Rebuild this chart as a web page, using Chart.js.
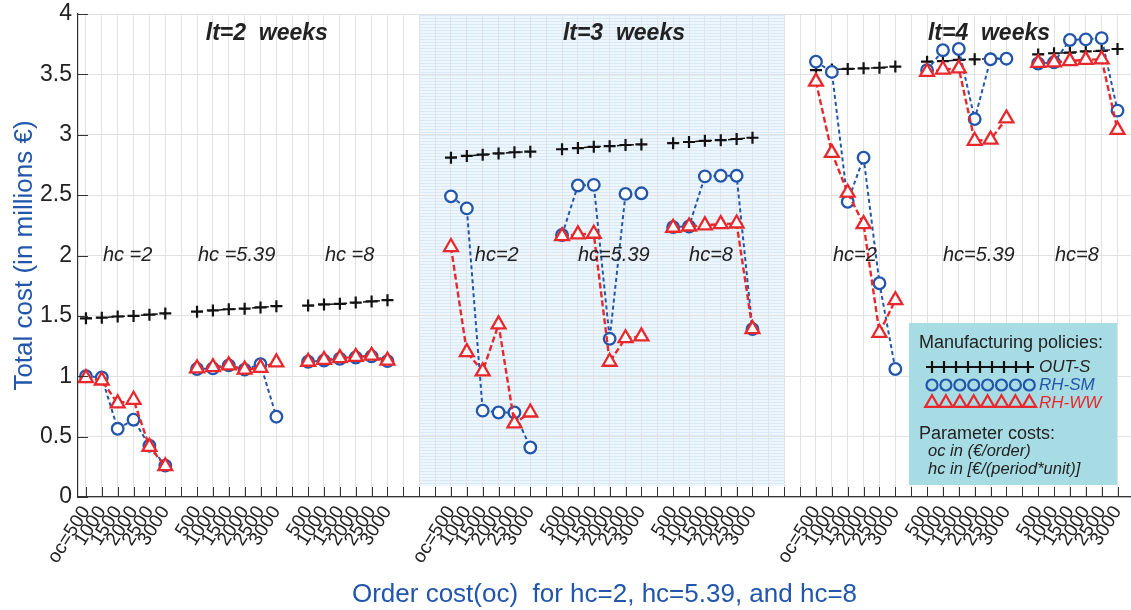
<!DOCTYPE html>
<html>
<head>
<meta charset="utf-8">
<script src="https://cdn.jsdelivr.net/npm/chart.js@4.4.1/dist/chart.umd.min.js"></script>
<style>
  html, body { margin: 0; padding: 0; background: #fff; }
  #wrap { width: 1131px; height: 610px; }
</style>
</head>
<body>
<div id="wrap"><canvas id="costChart" width="1131" height="610"></canvas></div>
<script>
// order cost values (x categories inside each hc group)
const orderCosts = [500, 1000, 1500, 2000, 2500, 3000];
const holdingCosts = ['2', '5.39', '8'];
const leadTimes = [2, 3, 4];
const yTicks = [0, 0.5, 1, 1.5, 2, 2.5, 3, 3.5, 4];

// total cost in millions, per lead time: hc=2 | hc=5.39 | hc=8
const outSLt2 = [1.48, 1.485, 1.495, 1.50, 1.51, 1.52,  1.535, 1.545, 1.555, 1.56, 1.57, 1.58,  1.585, 1.595, 1.60, 1.61, 1.62, 1.63];
const outSLt3 = [2.81, 2.825, 2.835, 2.845, 2.855, 2.86,  2.88, 2.89, 2.90, 2.905, 2.915, 2.92,  2.93, 2.94, 2.95, 2.955, 2.965, 2.975];
const outSLt4 = [3.535, 3.54, 3.545, 3.55, 3.555, 3.565,  3.605, 3.61, 3.62, 3.625, 3.63, 3.635,  3.665, 3.675, 3.68, 3.69, 3.695, 3.71];

const rhSMLt2 = [1.0, 0.99, 0.565, 0.64, 0.425, 0.26,  1.06, 1.065, 1.09, 1.055, 1.10, 0.665,  1.12, 1.13, 1.145, 1.155, 1.165, 1.125];
const rhSMLt3 = [2.49, 2.39, 0.715, 0.70, 0.70, 0.41,  2.17, 2.58, 2.585, 1.31, 2.51, 2.515,  2.235, 2.24, 2.655, 2.66, 2.66, 1.39];
const rhSMLt4 = [3.605, 3.52, 2.445, 2.81, 1.77, 1.06,  3.535, 3.70, 3.71, 3.13, 3.625, 3.63,  3.59, 3.60, 3.785, 3.79, 3.80, 3.20];

const rhWWLt2 = [0.985, 0.965, 0.775, 0.805, 0.415, 0.255,  1.065, 1.075, 1.09, 1.055, 1.07, 1.115,  1.12, 1.135, 1.15, 1.16, 1.17, 1.13];
const rhWWLt3 = [2.07, 1.20, 1.04, 1.43, 0.61, 0.70,  2.16, 2.175, 2.18, 1.12, 1.315, 1.33,  2.23, 2.24, 2.25, 2.26, 2.265, 1.39];
const rhWWLt4 = [3.44, 2.85, 2.52, 2.26, 1.36, 1.63,  3.52, 3.54, 3.55, 2.95, 2.96, 3.135,  3.595, 3.60, 3.61, 3.62, 3.625, 3.04];

const BLUE = '#2156ac';
const RED = '#e8282c';
const TEXT = '#222222';
const FONT = '"Liberation Sans", Arial, sans-serif';

// x slot of point i in group (lead time block b, hc group h)
function slot(b, h, i) {
    return 1 + b * 23 + h * 7 + i;
}

function buildSeries(blocks) {
    const pts = [];
    blocks.forEach((vals, b) => {
        for (let h = 0; h < 3; h++) {
            for (let i = 0; i < 6; i++) {
                pts.push({ x: slot(b, h, i), y: vals[h * 6 + i] });
            }
            pts.push({ x: slot(b, h, 6), y: null }); // break line between groups
        }
    });
    return pts;
}

// tick label for each integer slot
const slotLabels = {};
leadTimes.forEach((lt, b) => {
    holdingCosts.forEach((hc, h) => {
        orderCosts.forEach((oc, i) => {
            slotLabels[slot(b, h, i)] = (h === 0 && i === 0) ? 'oc=' + oc : String(oc);
        });
    });
});

// hatched light blue patch behind lt=3 block
function makeHatch(ctx) {
    const c = document.createElement('canvas');
    c.width = 4; c.height = 3;
    const p = c.getContext('2d');
    p.fillStyle = '#eef6fd';
    p.fillRect(0, 0, 4, 3);
    p.fillStyle = '#d9e9f7';
    p.fillRect(0, 0, 4, 1);
    return ctx.createPattern(c, 'repeat');
}

const decorPlugin = {
    id: 'decor',
    beforeDraw(chart) {
        const { ctx, scales: { x, y } } = chart;
        ctx.save();
        ctx.fillStyle = makeHatch(ctx);
        const x0 = x.getPixelForValue(22), x1 = x.getPixelForValue(45);
        const y0 = y.getPixelForValue(4), y1 = y.getPixelForValue(0.09);
        ctx.fillRect(x0, y0, x1 - x0, y1 - y0);
        ctx.restore();
    },
    afterDatasetsDraw(chart) {
        const { ctx, chartArea, scales: { x, y } } = chart;
        ctx.save();
        // inward tick marks
        ctx.strokeStyle = '#333';
        ctx.lineWidth = 1;
        ctx.beginPath();
        for (let s = 1; s <= 66; s++) {
            const px = Math.round(x.getPixelForValue(s)) + 0.5;
            ctx.moveTo(px, chartArea.bottom);
            ctx.lineTo(px, chartArea.bottom - 10);
        }
        yTicks.forEach(v => {
            const py = Math.round(y.getPixelForValue(v)) + 0.5;
            ctx.moveTo(chartArea.left, py);
            ctx.lineTo(chartArea.left + 10, py);
        });
        ctx.stroke();

        // lead time headers
        ctx.fillStyle = TEXT;
        ctx.textAlign = 'center';
        ctx.textBaseline = 'middle';
        ctx.font = 'italic bold 23px ' + FONT;
        const ltCenters = [12.4, 34.9, 57.9];
        leadTimes.forEach((lt, b) => {
            ctx.fillText('lt=' + lt + '  weeks', x.getPixelForValue(ltCenters[b]), y.getPixelForValue(3.834));
        });

        // hc labels
        ctx.font = 'italic 20px ' + FONT;
        ctx.textAlign = 'left';
        const hcLeft = [[2.07, 8.06, 16.06], [25.5, 32.0, 39.0], [48.07, 55.0, 62.06]];
        leadTimes.forEach((lt, b) => {
            holdingCosts.forEach((hc, h) => {
                const txt = b === 0 ? 'hc =' + hc : 'hc=' + hc;
                ctx.fillText(txt, x.getPixelForValue(hcLeft[b][h]), y.getPixelForValue(2));
            });
        });
        ctx.restore();
    },
    afterDraw(chart) {
        const { ctx } = chart;
        const bx = 909, by = 323, bw = 208, bh = 162;
        ctx.save();
        ctx.fillStyle = '#a8dce4';
        ctx.fillRect(bx, by, bw, bh);
        ctx.textBaseline = 'middle';
        ctx.textAlign = 'left';
        ctx.fillStyle = TEXT;
        ctx.font = '18px ' + FONT;
        ctx.fillText('Manufacturing policies:', bx + 10, by + 20);

        const rows = [
            { style: 'cross', color: '#111', n: 9, step: 12, r: 6, label: 'OUT-S', y: by + 44 },
            { style: 'circle', color: BLUE, n: 8, step: 13.9, r: 5.5, label: 'RH-SM', y: by + 62 },
            { style: 'triangle', color: RED, n: 8, step: 13.9, r: 7.8, label: 'RH-WW', y: by + 80 }
        ];
        rows.forEach(row => {
            ctx.strokeStyle = row.color;
            ctx.fillStyle = 'rgba(0,0,0,0)';
            ctx.lineWidth = 2.2;
            for (let k = 0; k < row.n; k++) {
                Chart.helpers.drawPoint(ctx, { pointStyle: row.style, radius: row.r, borderWidth: 2.2, rotation: 0 },
                    bx + 23 + k * row.step, row.y);
            }
            ctx.fillStyle = row.style === 'cross' ? TEXT : row.color;
            ctx.font = 'italic 17px ' + FONT;
            ctx.fillText(row.label, bx + 130, row.y);
        });

        ctx.fillStyle = TEXT;
        ctx.font = '18px ' + FONT;
        ctx.fillText('Parameter costs:', bx + 10, by + 111);
        ctx.font = 'italic 16.5px ' + FONT;
        ctx.fillText('oc in (\u20AC/order)', bx + 19, by + 128);
        ctx.fillText('hc in [\u20AC/(period*unit)]', bx + 19, by + 146);
        ctx.restore();
    }
};

new Chart(document.getElementById('costChart'), {
    type: 'line',
    data: {
        datasets: [
            {
                label: 'OUT-S',
                data: buildSeries([outSLt2, outSLt3, outSLt4]),
                borderColor: '#111',
                borderWidth: 1.5,
                borderDash: [6, 5],
                pointStyle: 'cross',
                pointRadius: 6,
                pointBorderWidth: 2.2,
                pointBorderColor: '#111',
                spanGaps: false,
                order: 2
            },
            {
                label: 'RH-SM',
                data: buildSeries([rhSMLt2, rhSMLt3, rhSMLt4]),
                borderColor: BLUE,
                borderWidth: 2,
                borderDash: [4, 3],
                pointStyle: 'circle',
                pointRadius: 5.8,
                pointBorderWidth: 2.3,
                pointBorderColor: BLUE,
                pointBackgroundColor: '#fff',
                spanGaps: false,
                order: 1
            },
            {
                label: 'RH-WW',
                data: buildSeries([rhWWLt2, rhWWLt3, rhWWLt4]),
                borderColor: RED,
                borderWidth: 2.4,
                borderDash: [6, 3],
                pointStyle: 'triangle',
                pointRadius: 8,
                pointBorderWidth: 2.3,
                pointBorderColor: RED,
                pointBackgroundColor: '#fff',
                spanGaps: false,
                order: 0
            }
        ]
    },
    options: {
        responsive: false,
        animation: false,
        devicePixelRatio: 1,
        layout: { autoPadding: false, padding: { top: 14, right: 0, left: 0, bottom: 0 } },
        plugins: {
            legend: { display: false },
            tooltip: { enabled: false }
        },
        elements: { line: { tension: 0 } },
        scales: {
            x: {
                type: 'linear',
                min: 0.5,
                max: 66.85,
                afterFit(scale) {
                    scale.height = 113;
                    scale.paddingLeft = 0;
                    scale.paddingRight = 0;
                },
                afterBuildTicks(scale) {
                    const t = [];
                    for (let s = 1; s <= 66; s++) t.push({ value: s });
                    scale.ticks = t;
                },
                ticks: {
                    autoSkip: false,
                    minRotation: 58,
                    maxRotation: 58,
                    padding: 5,
                    color: TEXT,
                    font: { family: FONT, size: 19 },
                    callback: v => slotLabels[v] || ''
                },
                grid: { color: '#e2e2e2', lineWidth: 1, drawTicks: false },
                border: { display: true, color: '#333', width: 1.2 },
                title: {
                    display: true,
                    text: 'Order cost(oc)  for hc=2, hc=5.39, and hc=8',
                    color: BLUE,
                    font: { family: FONT, size: 26 },
                    padding: { top: 1, bottom: 0 }
                }
            },
            y: {
                min: 0,
                max: 4,
                afterFit(scale) {
                    scale.width = 78;
                    scale.paddingTop = 0;
                    scale.paddingBottom = 0;
                },
                afterBuildTicks(scale) { scale.ticks = yTicks.map(v => ({ value: v })); },
                ticks: {
                    color: TEXT,
                    padding: 6,
                    font: { family: FONT, size: 23 },
                    callback: v => String(v)
                },
                grid: { color: '#e2e2e2', lineWidth: 1, drawTicks: false },
                border: { display: true, color: '#333', width: 1.2 },
                title: {
                    display: true,
                    text: 'Total cost (in millions \u20AC)',
                    color: BLUE,
                    font: { family: FONT, size: 26 },
                    padding: { top: 9, bottom: 0 }
                }
            }
        }
    },
    plugins: [decorPlugin]
});
</script>
</body>
</html>
